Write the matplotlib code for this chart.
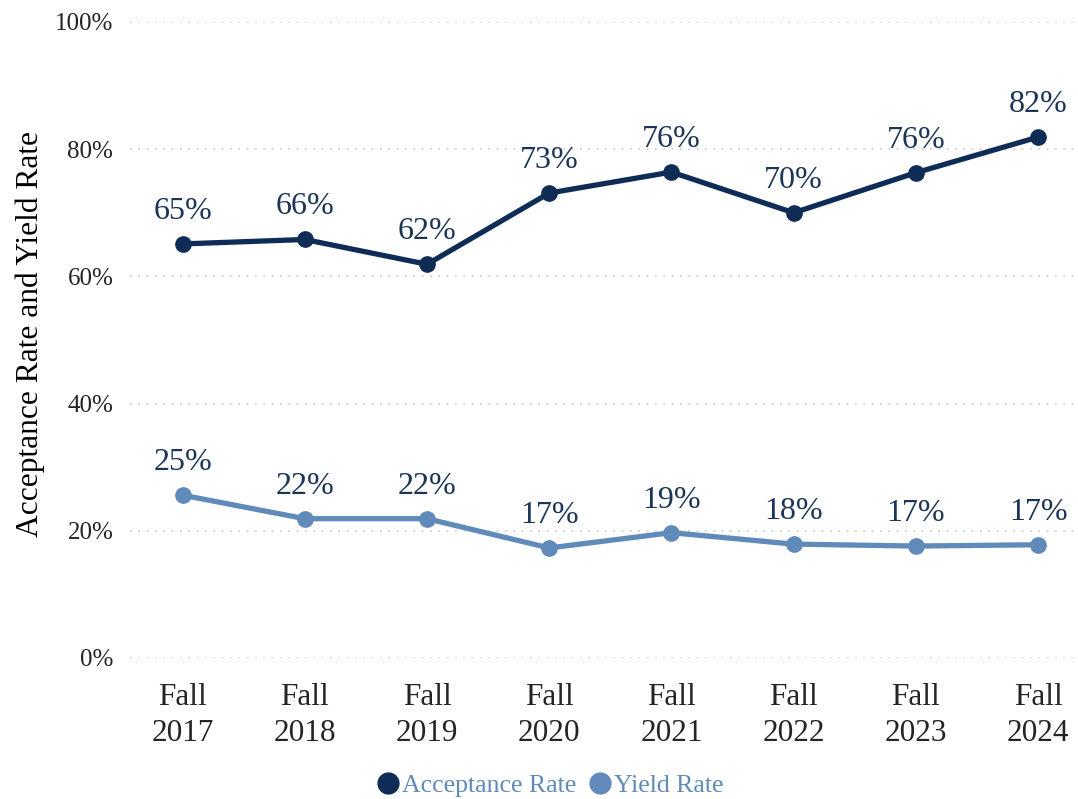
import matplotlib.pyplot as plt
from matplotlib.lines import Line2D

plt.rcParams['font.family'] = ['Liberation Serif', 'DejaVu Serif']

terms = ["Fall\n2017", "Fall\n2018", "Fall\n2019", "Fall\n2020",
         "Fall\n2021", "Fall\n2022", "Fall\n2023", "Fall\n2024"]
acceptance_rate = [65.1, 65.8, 61.9, 73.1, 76.4, 70.0, 76.3, 81.9]
yield_rate = [25.6, 21.9, 21.9, 17.3, 19.7, 17.9, 17.6, 17.8]
acceptance_labels = ["65%", "66%", "62%", "73%", "76%", "70%", "76%", "82%"]
yield_labels = ["25%", "22%", "22%", "17%", "19%", "18%", "17%", "17%"]
y_ticks = [0, 20, 40, 60, 80, 100]

dark_blue = "#0e2c55"
light_blue = "#5f8ab9"
label_color = "#1b3457"
text_color = "#252423"

fig = plt.figure(figsize=(10.78, 7.99), dpi=100)
ax = fig.add_axes([0.1206, 0.1765, 0.8764, 0.796])

x = list(range(len(terms)))

for values, labels, color in [
    (acceptance_rate, acceptance_labels, dark_blue),
    (yield_rate, yield_labels, light_blue),
]:
    ax.plot(
        x,
        values,
        color=color,
        linewidth=3.8,
        marker="o",
        markersize=11,
        zorder=3,
        clip_on=False,
    )
    for xi, v, lab in zip(x, values, labels):
        ax.annotate(
            lab,
            (xi, v),
            xytext=(0, 13),
            textcoords="offset points",
            ha="center",
            va="bottom",
            fontsize=23,
            color=label_color,
        )

ax.set_xlim(-0.43, 7.3)
ax.set_ylim(0, 100)
ax.set_xticks(x)
ax.set_xticklabels(terms, fontsize=22.5, color=text_color, linespacing=1.3)
ax.set_yticks(y_ticks)
ax.set_yticklabels([f"{t}%" for t in y_ticks], fontsize=18, color=text_color)
ax.tick_params(axis="both", length=0)
ax.tick_params(axis="x", pad=18)
ax.tick_params(axis="y", pad=12)

ax.grid(axis="y", color="#c8c8c8", linestyle=(0, (1, 4)), linewidth=1.2)
ax.set_axisbelow(True)
for spine in ax.spines.values():
    spine.set_visible(False)

fig.text(
    0.028,
    0.582,
    "Acceptance Rate and Yield Rate",
    rotation=90,
    ha="center",
    va="center",
    fontsize=22.7,
    color="#000000",
)

handles = [
    Line2D([], [], color=dark_blue, marker="o", linestyle="none", markersize=15),
    Line2D([], [], color=light_blue, marker="o", linestyle="none", markersize=15),
]
leg = fig.legend(
    handles,
    ["Acceptance Rate", "Yield Rate"],
    loc="center",
    bbox_to_anchor=(0.509, 0.017),
    ncol=2,
    frameon=False,
    fontsize=18.5,
    handletextpad=0.0,
    columnspacing=0.4,
    handlelength=1.1,
)
for txt in leg.get_texts():
    txt.set_color(light_blue)

fig.savefig("out.png", dpi=100)
